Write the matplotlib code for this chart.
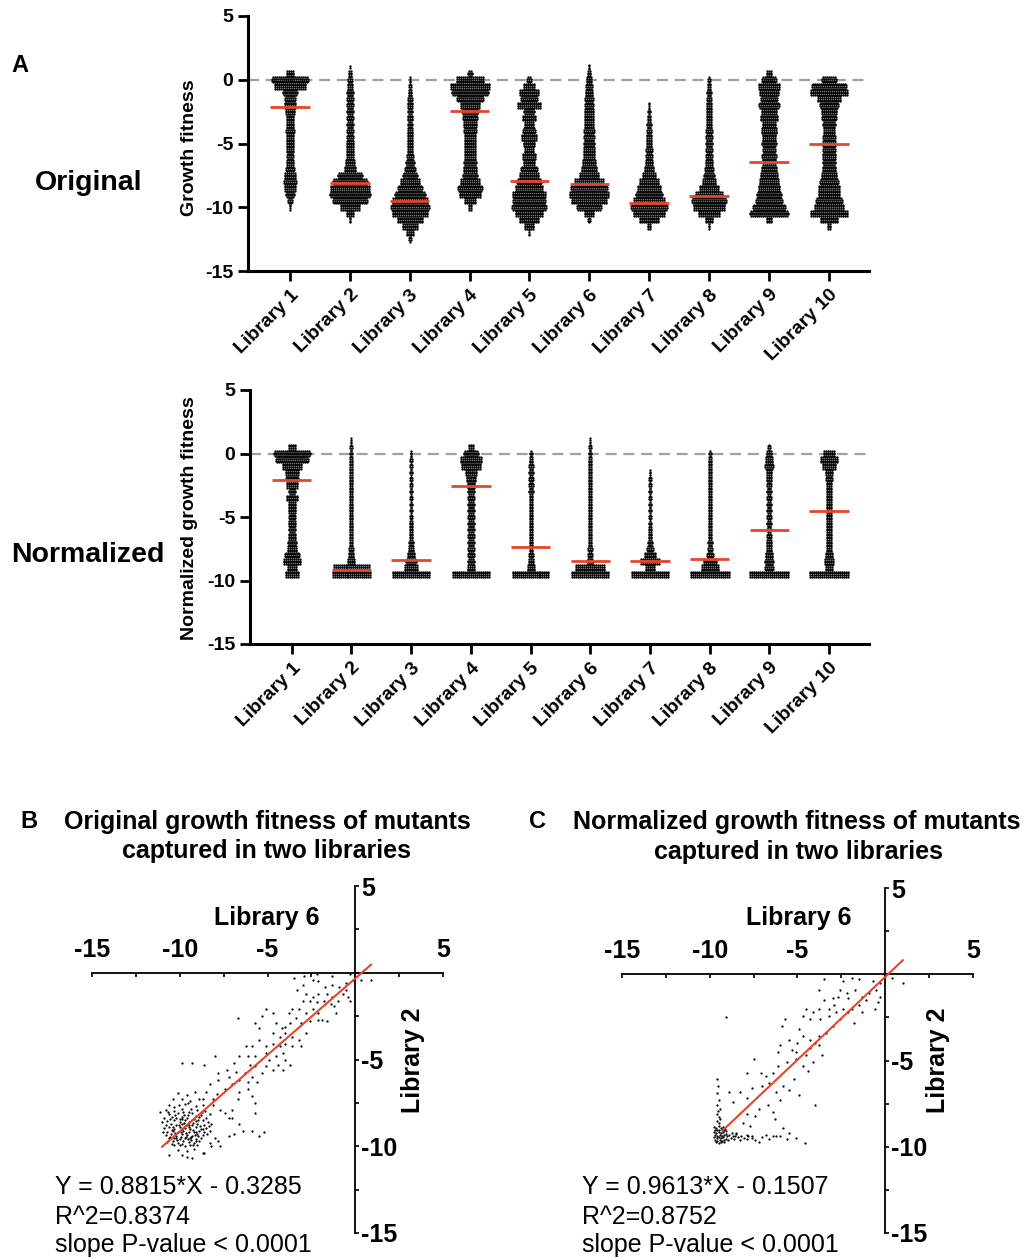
import numpy as np
import matplotlib
matplotlib.use('Agg')
import matplotlib.pyplot as plt

plt.rcParams['font.family'] = ['Liberation Sans', 'DejaVu Sans']
plt.rcParams['axes.unicode_minus'] = False

W, H = 1029, 1258
RED = '#e8432b'

libraries = ['Library %d' % i for i in range(1, 11)]

# fitness bins (0.5 wide), from +1.0 down to -12.5
bin_centers = np.arange(1.0, -12.75, -0.5)

# mutants per bin, original growth fitness
orig_counts = [
    [0, 16, 74, 64, 30, 22, 24, 20, 16, 16, 18, 16, 16, 16, 14, 16, 18, 24, 26, 24, 18, 10, 4],
    [2, 8, 10, 12, 14, 14, 14, 14, 14, 14, 14, 14, 16, 16, 16, 20, 24, 50, 70, 80, 82, 70, 40, 16, 4],
    [0, 0, 4, 6, 8, 10, 12, 10, 12, 10, 12, 12, 12, 12, 14, 18, 22, 30, 40, 50, 62, 72, 78, 72, 52, 32, 16, 6],
    [0, 10, 56, 80, 74, 54, 40, 34, 30, 28, 26, 24, 24, 24, 24, 26, 28, 30, 40, 50, 44, 24, 8],
    [0, 0, 10, 24, 40, 34, 48, 22, 28, 20, 26, 32, 24, 20, 28, 24, 34, 40, 50, 56, 68, 66, 70, 56, 40, 20, 4],
    [4, 8, 12, 14, 16, 18, 18, 20, 20, 20, 22, 22, 22, 24, 24, 28, 32, 40, 60, 74, 80, 72, 50, 20, 6],
    [0, 0, 0, 0, 0, 0, 4, 6, 8, 10, 10, 12, 12, 14, 14, 16, 20, 28, 40, 48, 54, 64, 74, 64, 40, 8],
    [0, 0, 6, 8, 10, 10, 12, 12, 12, 12, 14, 14, 14, 14, 14, 16, 18, 22, 28, 40, 56, 70, 64, 44, 16, 4],
    [0, 12, 30, 44, 40, 34, 42, 32, 36, 28, 32, 28, 30, 26, 30, 28, 32, 36, 40, 44, 50, 54, 66, 78, 12],
    [0, 0, 30, 70, 76, 48, 38, 32, 30, 26, 24, 26, 28, 26, 28, 26, 28, 32, 38, 44, 44, 54, 60, 76, 36, 8],
]
orig_medians = [-2.1, -8.1, -9.5, -2.45, -7.97, -8.2, -9.7, -9.1, -6.47, -5.0]

# mutants per bin, normalized growth fitness
norm_counts = [
    [0, 16, 74, 66, 40, 28, 26, 24, 14, 24, 16, 16, 14, 16, 14, 16, 18, 20, 30, 36, 20, 28],
    [4, 6, 6, 8, 8, 8, 8, 8, 8, 8, 8, 8, 8, 8, 8, 8, 8, 10, 12, 16, 76, 80],
    [0, 0, 4, 6, 6, 6, 6, 6, 6, 6, 6, 6, 6, 8, 8, 8, 10, 12, 16, 22, 28, 76],
    [0, 12, 30, 44, 40, 24, 20, 16, 14, 14, 14, 14, 14, 14, 14, 14, 14, 14, 14, 14, 16, 76],
    [0, 0, 6, 8, 10, 10, 10, 10, 10, 8, 8, 8, 8, 8, 8, 8, 8, 8, 10, 12, 16, 76],
    [4, 6, 6, 8, 8, 8, 8, 8, 8, 8, 8, 8, 8, 8, 8, 8, 8, 10, 10, 14, 60, 76],
    [0, 0, 0, 0, 0, 4, 6, 6, 6, 6, 6, 6, 6, 6, 8, 8, 10, 14, 24, 40, 20, 76],
    [0, 0, 6, 8, 8, 8, 8, 8, 8, 8, 8, 8, 8, 8, 8, 8, 10, 10, 14, 28, 36, 80],
    [0, 6, 12, 16, 18, 12, 12, 10, 10, 10, 10, 10, 10, 10, 10, 10, 12, 12, 16, 18, 18, 80],
    [0, 0, 24, 36, 28, 16, 14, 12, 12, 12, 12, 12, 12, 12, 12, 12, 12, 12, 16, 20, 16, 80],
]
norm_medians = [-2.1, -9.15, -8.4, -2.55, -7.35, -8.5, -8.45, -8.3, -6.05, -4.5]

# Library 6 (x) vs Library 2 (y), original
b_points = [
    (-3.5, -0.3), (-2.9, -0.2), (-2.2, -0.1), (-1.3, -0.2), (-0.3, -0.1), (-0.1, -0.4), (0.3, -0.4),
    (0.9, -0.4), (-0.5, -0.6), (-0.9, -0.8), (-1.3, -0.7), (-1.7, -0.8), (-2.1, -0.5), (-2.4, -0.4),
    (-3.0, -0.7), (-3.3, -1.0), (-2.8, -1.2), (-2.4, -1.4), (-2.1, -1.2), (-1.6, -1.2), (-1.3, -1.4),
    (-0.7, -1.2), (-0.4, -1.4), (-0.3, -1.6), (-0.5, -1.0), (-1.0, -1.6), (-1.4, -1.8), (-1.8, -1.6),
    (-2.2, -1.7), (-2.6, -1.6), (-3.0, -1.6), (-3.2, -2.1), (-3.6, -2.1), (-3.8, -2.3), (-3.4, -2.6),
    (-2.8, -2.3), (-2.4, -2.1), (-2.1, -2.3), (-1.9, -2.7), (-1.6, -2.8), (-1.2, -1.9), (-1.1, -2.3),
    (-2.1, -2.7), (-2.6, -2.8), (-3.1, -2.9), (-3.7, -2.9), (-4.0, -3.1), (-4.2, -3.2), (-4.5, -2.9),
    (-4.7, -2.3), (-5.1, -2.1), (-5.3, -2.5), (-6.7, -2.6), (-5.7, -2.9), (-5.5, -3.2), (-4.7, -3.5),
    (-4.3, -3.7), (-4.0, -3.5), (-3.6, -3.7), (-3.2, -3.9), (-2.8, -3.5), (-3.1, -4.2), (-3.6, -4.2),
    (-4.0, -4.1), (-4.3, -4.2), (-4.7, -4.1), (-5.1, -4.2), (-5.5, -3.9), (-5.9, -4.2), (-6.2, -4.2),
    (-6.1, -4.8), (-5.7, -4.8), (-5.1, -4.6), (-4.9, -5.0), (-4.5, -4.8), (-4.1, -4.6), (-4.0, -5.0),
    (-3.7, -5.3), (-4.1, -5.6), (-4.4, -5.3), (-4.7, -5.6), (-5.1, -5.4), (-5.3, -5.8), (-5.7, -5.4),
    (-6.0, -5.3), (-6.6, -4.8), (-6.9, -5.2), (-6.8, -5.7), (-6.3, -5.8), (-5.9, -6.0), (-5.6, -6.3),
    (-6.1, -6.3), (-6.6, -6.2), (-7.0, -6.4), (-7.2, -6.0), (-7.3, -5.6), (-7.4, -6.7), (-6.6, -6.9),
    (-6.1, -6.7), (-5.9, -7.1), (-5.7, -7.5), (-6.7, -7.3), (-7.0, -7.9), (-7.0, -8.4), (-7.8, -5.8),
    (-8.0, -4.8), (-8.6, -5.3), (-9.3, -5.2), (-9.9, -5.2), (-7.8, -6.2), (-8.3, -6.4), (-8.5, -6.9),
    (-7.9, -7.0), (-8.1, -7.3), (-8.7, -7.3), (-7.7, -7.9), (-7.4, -8.1), (-7.2, -8.4), (-6.6, -8.7),
    (-6.4, -9.1), (-5.9, -9.1), (-5.5, -9.4), (-5.2, -9.2), (-5.7, -8.1), (-6.9, -9.3), (-7.2, -9.4),
    (-7.8, -9.7), (-7.7, -10.0), (-8.3, -9.8), (-8.7, -10.4), (-9.6, -10.6),
    (-10.1, -6.95), (-9.6, -7.05), (-9.15, -6.9), (-10.4, -7.3), (-9.85, -7.25), (-9.4, -7.4), (-8.9, -7.3),
    (-10.6, -7.6), (-10.05, -7.65), (-9.7, -7.55), (-9.1, -7.7), (-8.65, -7.6), (-10.8, -7.9),
    (-10.3, -7.95), (-9.9, -7.85), (-9.5, -8.0), (-9.0, -7.9), (-8.55, -7.95), (-10.6, -8.15),
    (-10.1, -8.1), (-9.75, -8.2), (-9.3, -8.1), (-8.8, -8.2), (-8.3, -8.15), (-10.9, -8.35),
    (-10.45, -8.3), (-10.2, -8.4), (-9.9, -8.3), (-9.6, -8.35), (-9.2, -8.45), (-8.9, -8.3), (-8.5, -8.4),
    (-10.7, -8.55), (-10.35, -8.5), (-10.0, -8.6), (-9.7, -8.5), (-9.45, -8.6), (-9.1, -8.55),
    (-8.7, -8.5), (-8.4, -8.6), (-10.8, -8.75), (-10.5, -8.7), (-10.2, -8.8), (-9.9, -8.7), (-9.6, -8.75),
    (-9.3, -8.8), (-9.0, -8.7), (-8.6, -8.75), (-8.2, -8.7), (-10.9, -8.95), (-10.6, -8.9), (-10.3, -9.0),
    (-10.0, -8.9), (-9.7, -8.95), (-9.4, -9.0), (-9.1, -8.9), (-8.8, -9.0), (-8.5, -8.95), (-10.7, -9.15),
    (-10.4, -9.1), (-10.1, -9.2), (-9.8, -9.1), (-9.5, -9.15), (-9.2, -9.2), (-8.9, -9.1), (-8.6, -9.15),
    (-8.3, -9.1), (-10.8, -9.35), (-10.5, -9.3), (-10.2, -9.4), (-9.9, -9.3), (-9.6, -9.35), (-9.3, -9.4),
    (-9.0, -9.3), (-8.7, -9.35), (-10.6, -9.55), (-10.3, -9.5), (-10.0, -9.6), (-9.7, -9.5), (-9.4, -9.55),
    (-9.1, -9.6), (-8.8, -9.5), (-10.7, -9.75), (-10.4, -9.7), (-10.1, -9.8), (-9.8, -9.7), (-9.5, -9.75),
    (-9.2, -9.8), (-8.9, -9.7), (-10.3, -9.95), (-10.0, -9.9), (-9.7, -10.0), (-9.4, -9.9), (-9.0, -9.95),
    (-10.1, -10.2), (-9.6, -10.25), (-9.2, -10.15), (-9.9, -10.5),
    (-10.25, -8.2), (-9.55, -8.2), (-9.05, -8.25), (-10.55, -8.45), (-9.85, -8.45), (-9.25, -8.65),
    (-8.95, -8.5), (-10.05, -8.75), (-9.45, -8.8), (-8.85, -8.85), (-10.45, -9.05), (-9.85, -9.0),
    (-9.25, -9.05), (-8.65, -9.0), (-10.25, -9.25), (-9.65, -9.25), (-9.05, -9.2), (-10.55, -9.45),
    (-9.95, -9.45), (-9.35, -9.45), (-8.95, -9.4), (-10.15, -9.65), (-9.55, -9.6), (-9.05, -9.7),
    (-10.45, -9.85), (-9.85, -9.85), (-9.25, -9.9), (-10.65, -8.05), (-9.35, -7.85), (-8.75, -8.05),
    (-10.35, -7.75), (-9.55, -7.5), (-10.95, -9.2), (-11.0, -8.6), (-8.45, -9.3), (-8.35, -8.85),
    (-11.1, -8.0), (-8.1, -7.6), (-8.0, -9.5), (-8.2, -10.0), (-10.6, -10.5), (-9.3, -10.7), (-8.6, -10.4),
    (-10.0, -8.45), (-9.75, -8.65), (-9.5, -8.9), (-9.95, -9.15), (-9.65, -9.45), (-9.35, -9.65),
    (-10.2, -9.55), (-9.15, -9.35), (-9.8, -8.05), (-10.4, -8.9),
]

# Library 6 (x) vs Library 2 (y), normalized
c_points = [
    (-3.5, -0.3), (-2.4, -0.4), (-1.9, -0.2), (-1.5, -0.3), (-0.7, -0.4), (-0.3, -0.5), (0.4, -0.2),
    (1.0, -0.5), (-0.5, -0.9), (-0.3, -1.3), (-0.4, -1.6), (-0.9, -1.1), (-1.3, -1.3), (-1.7, -0.9),
    (-2.1, -1.4), (-2.2, -1.1), (-2.6, -0.9), (-2.7, -1.3), (-3.0, -1.4), (-3.2, -2.0), (-3.8, -0.9),
    (-3.8, -2.0), (-4.1, -2.2), (-4.5, -2.0), (-4.7, -2.4), (-4.3, -2.6), (-3.7, -2.6), (-3.2, -2.4),
    (-2.8, -2.2), (-2.4, -2.0), (-2.1, -2.2), (-1.8, -2.8), (-1.9, -2.0), (-1.3, -2.2), (-1.5, -1.8),
    (-2.6, -2.6), (-3.0, -3.0), (-3.4, -3.4), (-3.8, -3.6), (-4.0, -4.0), (-4.3, -3.8), (-4.7, -3.6),
    (-5.0, -4.0), (-5.5, -3.8), (-5.9, -3.0), (-5.7, -2.6), (-6.0, -4.1), (-6.1, -4.5), (-5.1, -4.5),
    (-4.5, -4.7), (-4.3, -4.3), (-3.8, -4.1), (-3.6, -4.7), (-4.1, -5.1), (-4.7, -5.3), (-5.1, -4.9),
    (-5.6, -5.1), (-6.1, -5.3), (-6.4, -5.7), (-6.8, -5.9), (-6.6, -6.3), (-6.2, -6.8), (-5.8, -6.5),
    (-5.5, -6.7), (-4.9, -7.0), (-4.0, -7.6), (-7.5, -4.9), (-7.9, -5.7), (-7.1, -5.7), (-7.0, -6.5),
    (-7.6, -6.6), (-7.9, -7.2), (-8.3, -6.8), (-8.9, -6.8), (-8.7, -7.4), (-7.2, -7.8), (-7.4, -8.2),
    (-6.4, -8.0), (-6.3, -8.4), (-5.8, -8.9), (-5.5, -9.2), (-6.4, -9.4), (-6.0, -9.4), (-6.8, -9.3),
    (-7.6, -9.5), (-7.9, -9.3), (-8.5, -9.2), (-8.1, -8.6), (-7.7, -8.8), (-7.2, -9.7), (-5.1, -9.5),
    (-4.6, -9.8), (-9.1, -2.5), (-1.1, -1.5), (-0.6, -2.0), (-2.9, -1.8), (-3.5, -1.5), (-4.9, -3.2),
    (-5.3, -4.4), (-4.4, -5.6), (-5.2, -6.1), (-6.0, -7.3), (-6.7, -7.6), (-7.9, -8.1),
    (-9.6, -6.1), (-9.55, -6.5), (-9.6, -6.9), (-9.5, -7.3), (-9.6, -7.6), (-9.55, -7.9), (-9.4, -7.8),
    (-9.6, -8.1), (-9.5, -8.3), (-9.4, -8.4), (-9.6, -8.5), (-9.5, -8.65),
    (-9.75, -8.85), (-9.62, -8.9), (-9.5, -8.8), (-9.38, -8.9), (-9.25, -8.85), (-9.12, -8.95),
    (-9.7, -9.0), (-9.58, -9.05), (-9.45, -9.0), (-9.32, -9.05), (-9.2, -9.0), (-9.05, -9.1),
    (-9.76, -9.15), (-9.63, -9.2), (-9.5, -9.15), (-9.37, -9.2), (-9.24, -9.15), (-9.1, -9.25),
    (-9.7, -9.3), (-9.57, -9.35), (-9.44, -9.3), (-9.31, -9.35), (-9.18, -9.3), (-9.0, -9.4),
    (-9.74, -9.45), (-9.61, -9.5), (-9.48, -9.45), (-9.35, -9.5), (-9.22, -9.45), (-9.08, -9.55),
    (-9.7, -9.6), (-9.57, -9.65), (-9.44, -9.6), (-9.3, -9.65), (-9.16, -9.6), (-9.65, -9.75),
    (-9.5, -9.78), (-9.35, -9.75), (-9.2, -9.72),
    (-8.9, -9.3), (-8.8, -9.5), (-8.7, -9.35), (-8.6, -9.55), (-8.5, -9.25), (-8.4, -9.45), (-8.3, -9.6),
    (-8.2, -9.35), (-8.05, -9.5), (-7.9, -9.55), (-7.8, -9.4), (-7.6, -9.4), (-7.4, -9.6), (-7.0, -9.45),
    (-6.6, -9.55), (-6.2, -9.35), (-5.6, -9.55), (-8.95, -9.6), (-8.75, -9.2), (-8.55, -9.4),
]

b_fit = (0.8815, -0.3285, -11.0, 0.9)
c_fit = (0.9613, -0.1507, -9.25, 1.0)
b_text = ['Y = 0.8815*X - 0.3285', 'R^2=0.8374', 'slope P-value < 0.0001']
c_text = ['Y = 0.9613*X - 0.1507', 'R^2=0.8752', 'slope P-value < 0.0001']

ROWS = 4
DX = 2.0 / 60.0
ROW_ORDER = [1, 2, 0, 3]


def fx(x):
    return x / W


def fy(y):
    return 1 - y / H


def draw_swarm(ax, counts_list, medians):
    for i, counts in enumerate(counts_list):
        pos = i + 1
        xs, ys = [], []
        for c, n in zip(bin_centers, counts):
            for j, r in enumerate(ROW_ORDER):
                k = n // ROWS + (1 if j < n % ROWS else 0)
                if k == 0:
                    continue
                y = c + 0.25 - 0.125 * (r + 0.5)
                offs = (np.arange(k) - (k - 1) / 2.0) * DX
                xs.extend(pos + offs)
                ys.extend([y] * k)
        ax.scatter(xs, ys, s=2.8, c='black', linewidths=0, zorder=2)
        ax.plot([pos - 0.33, pos + 0.33], [medians[i]] * 2, color=RED, lw=2, zorder=3,
                solid_capstyle='butt')


def style_swarm(ax):
    ax.set_xlim(0.3, 10.67)
    ax.set_ylim(-15, 5)
    ax.spines['top'].set_visible(False)
    ax.spines['right'].set_visible(False)
    ax.spines['left'].set_linewidth(2.2)
    ax.spines['bottom'].set_linewidth(2.2)
    ax.set_yticks([-15, -10, -5, 0, 5])
    ax.set_xticks(range(1, 11))
    ax.set_xticklabels(libraries, rotation=45, ha='right', rotation_mode='anchor',
                       fontsize=11, fontweight='bold')
    ax.tick_params(width=2, length=7, labelsize=14)
    ax.tick_params(axis='x', pad=4)
    for t in ax.get_yticklabels():
        t.set_fontweight('bold')
    ax.axhline(0, color='#a0a0a0', lw=1.6, dashes=(5, 3), zorder=1)


def draw_scatter(ax, pts, fit):
    pts = np.array(pts)
    ax.scatter(pts[:, 0], pts[:, 1], s=2.6, c='black', linewidths=0, zorder=2)
    slope, icpt, x0, x1 = fit
    xr = np.array([x0, x1])
    ax.plot(xr, slope * xr + icpt, color=RED, lw=1.5, zorder=3)
    ax.set_xlim(-15, 5)
    ax.set_ylim(-15, 5)
    ax.spines['bottom'].set_visible(False)
    ax.spines['left'].set_visible(False)
    ax.spines['top'].set_position(('data', 0))
    ax.spines['right'].set_position(('data', 0))
    ax.spines['top'].set_linewidth(1.3)
    ax.spines['right'].set_linewidth(1.3)
    ax.xaxis.tick_top()
    ax.yaxis.tick_right()
    ax.set_xticks([-15, -10, -5, 0, 5])
    ax.set_xticklabels(['-15', '-10', '-5', '', '5'])
    ax.set_yticks([-15, -10, -5, 0, 5])
    ax.set_yticklabels(['-15', '-10', '-5', '', '5'])
    ax.set_xticks([-12.5, -7.5, -2.5, 2.5], minor=True)
    ax.set_yticks([-12.5, -7.5, -2.5, 2.5], minor=True)
    ax.tick_params(axis='x', which='both', direction='in', length=3, width=1.2, pad=8,
                   labelsize=18)
    ax.tick_params(axis='y', which='both', direction='out', length=3, width=1.2, pad=1,
                   labelsize=18)
    for t in ax.get_xticklabels() + ax.get_yticklabels():
        t.set_fontweight('bold')
    ax.patch.set_visible(False)


fig = plt.figure(figsize=(W / 100, H / 100), dpi=100)

ax1 = fig.add_axes([fx(248), fy(271), 621 / W, 255 / H])
draw_swarm(ax1, orig_counts, orig_medians)
style_swarm(ax1)

ax2 = fig.add_axes([fx(250), fy(644), 619 / W, 254 / H])
draw_swarm(ax2, norm_counts, norm_medians)
style_swarm(ax2)

fig.text(fx(20), fy(65), 'A', fontsize=17, fontweight='bold', ha='center', va='center')
fig.text(fx(89), fy(183), 'Original', fontsize=20.5, fontweight='bold', ha='center', va='center')
fig.text(fx(88), fy(555), 'Normalized', fontsize=20.5, fontweight='bold', ha='center', va='center')
fig.text(fx(189), fy(148), 'Growth fitness', fontsize=14, fontweight='bold', rotation=90,
         ha='center', va='center')
fig.text(fx(189), fy(518), 'Normalized growth fitness', fontsize=14, fontweight='bold',
         rotation=90, ha='center', va='center')

ax3 = fig.add_axes([fx(92), fy(1233), 351 / W, 347 / H])
draw_scatter(ax3, b_points, b_fit)
ax4 = fig.add_axes([fx(622), fy(1233), 351 / W, 345 / H])
draw_scatter(ax4, c_points, c_fit)

fig.text(fx(29), fy(822), 'B', fontsize=17, fontweight='bold', ha='center', va='center')
fig.text(fx(267), fy(822), 'Original growth fitness of mutants', fontsize=18,
         fontweight='bold', ha='center', va='center')
fig.text(fx(267), fy(851), 'captured in two libraries', fontsize=18,
         fontweight='bold', ha='center', va='center')
fig.text(fx(538), fy(822), 'C', fontsize=17, fontweight='bold', ha='center', va='center')
fig.text(fx(797), fy(822), 'Normalized growth fitness of mutants', fontsize=18,
         fontweight='bold', ha='center', va='center')
fig.text(fx(798), fy(852), 'captured in two libraries', fontsize=18,
         fontweight='bold', ha='center', va='center')

for cx, lx in [(267, 413), (799, 938)]:
    fig.text(fx(cx), fy(918), 'Library 6', fontsize=18, fontweight='bold',
             ha='center', va='center')
    fig.text(fx(lx), fy(1060), 'Library 2', fontsize=18, fontweight='bold', rotation=90,
             ha='center', va='center')

for x0, lines in [(55, b_text), (582, c_text)]:
    for yy, s in zip([1187, 1217, 1245], lines):
        fig.text(fx(x0), fy(yy), s, fontsize=18, ha='left', va='center')

fig.savefig('out.png', dpi=100)
